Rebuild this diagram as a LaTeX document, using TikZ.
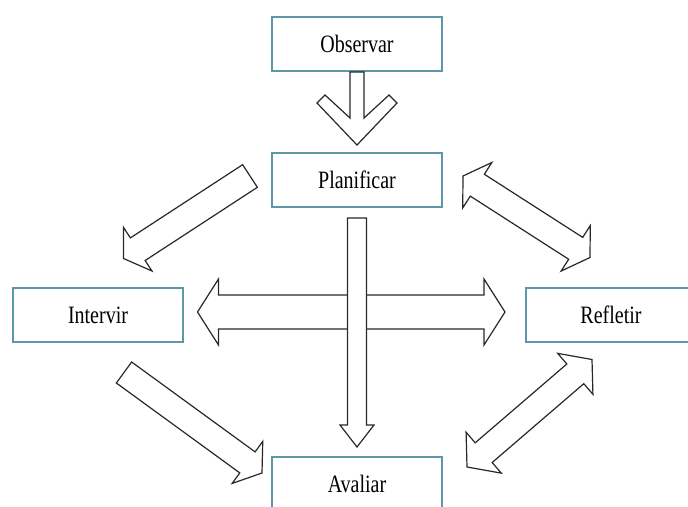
\documentclass[tikz,border=0pt]{standalone}
\usepackage{fontspec}
\setmainfont{Liberation Serif}[FakeStretch=0.8]
\usetikzlibrary{positioning,calc}
\definecolor{boxline}{RGB}{96,150,170}
\definecolor{arrline}{RGB}{40,40,40}
\tikzset{stage/.style={rectangle,draw=boxline,line width=2pt,fill=white,minimum width=170pt,minimum height=54pt,inner sep=0pt,font=\fontsize{25}{30}\selectfont},
         blockarrow/.style={draw=arrline,fill=white,line width=1.2pt,line join=miter}}
% head corners: tail, tip, prefix, shaft half width, junction dist, inner barb dist/offset, outer barb dist/offset
\newcommand\headpts[9]{%
  \coordinate (#3j) at ($(#2)!#5pt!(#1)$);
  \coordinate (#3i) at ($(#2)!#6pt!(#1)$);
  \coordinate (#3o) at ($(#2)!#8pt!(#1)$);
  \coordinate (#3jl) at ($(#3j)!#4pt!90:(#2)$);
  \coordinate (#3jr) at ($(#3j)!#4pt!-90:(#2)$);
  \coordinate (#3il) at ($(#3i)!#7pt!90:(#2)$);
  \coordinate (#3ir) at ($(#3i)!#7pt!-90:(#2)$);
  \coordinate (#3ol) at ($(#3o)!#9pt!90:(#2)$);
  \coordinate (#3or) at ($(#3o)!#9pt!-90:(#2)$);}
\newcommand\singlearrow[8]{%
  \headpts{#1}{#2}{h}{#3}{#4}{#5}{#6}{#7}{#8}
  \draw[blockarrow] ($(#1)!#3pt!90:(#2)$) -- (hjl) -- (hil) -- (hol) -- (#2) -- (hor) -- (hir) -- (hjr) -- ($(#1)!#3pt!-90:(#2)$) -- cycle;}
\newcommand\plainarrow[5]{\singlearrow{#1}{#2}{#3}{#4}{#4}{#5}{#4}{#5}}
\newcommand\plaindouble[5]{%
  \headpts{#1}{#2}{hb}{#3}{#4}{#4}{#5}{#4}{#5}
  \headpts{#2}{#1}{ha}{#3}{#4}{#4}{#5}{#4}{#5}
  \draw[blockarrow] (hbjl) -- (hbil) -- (hbol) -- (#2) -- (hbor) -- (hbir) -- (hbjr) -- (hajl) -- (hail) -- (haol) -- (#1) -- (haor) -- (hair) -- (hajr) -- cycle;}

\begin{document}
\begin{tikzpicture}[x=1pt,y=-1pt]
  \useasboundingbox (0,0) rectangle (688,506);
  \node (obs) [stage] at (357,44) {Observar};
  \node (plan) [stage, below=80pt of obs] {Planificar};
  \node (interv) [stage, below left=79pt and 87pt of plan] {Intervir};
  \node (refl) [stage, below right=79pt and 82pt of plan] {Refletir};
  \node (aval) [stage, below=248pt of plan] {Avaliar};
  % arrow ends
  \coordinate (obs-tip) at ($(plan.north)+(0,-7)$);
  \coordinate (plan-tail) at ($(plan.south)+(0,10)$);
  \coordinate (aval-tip) at ($(aval.north)+(0,-9)$);
  \coordinate (hz-left) at ($(interv.east)+(13.5,-3)$);
  \coordinate (hz-right) at ($(refl.west)+(-20,-3)$);
  \coordinate (ul-tail) at ($(plan.west)+(-21,-4)$);
  \coordinate (ul-tip) at ($(interv.north)+(25.5,-28.5)$);
  \coordinate (ll-tail) at ($(interv.south)+(26,29.5)$);
  \coordinate (ll-tip) at ($(aval.west)+(-9,-11)$);
  \coordinate (ur-a) at ($(plan.east)+(20,-4)$);
  \coordinate (ur-b) at ($(refl.north)+(-21,-29.5)$);
  \coordinate (lr-a) at ($(aval.east)+(24,-17)$);
  \coordinate (lr-b) at ($(refl.south)+(-19,16.5)$);
  % block arrows
  \singlearrow{obs.south}{obs-tip}{7}{27}{50}{32}{42}{40}
  \plainarrow{ul-tail}{ul-tip}{13.5}{17}{26}
  \plainarrow{ll-tail}{ll-tip}{13}{18}{26}
  \plaindouble{ur-a}{ur-b}{13}{17}{27}
  \plaindouble{lr-a}{lr-b}{13}{22}{27}
  \plaindouble{hz-left}{hz-right}{17}{21}{33}
  \plainarrow{plan-tail}{aval-tip}{9.5}{22}{17}
\end{tikzpicture}
\end{document}
